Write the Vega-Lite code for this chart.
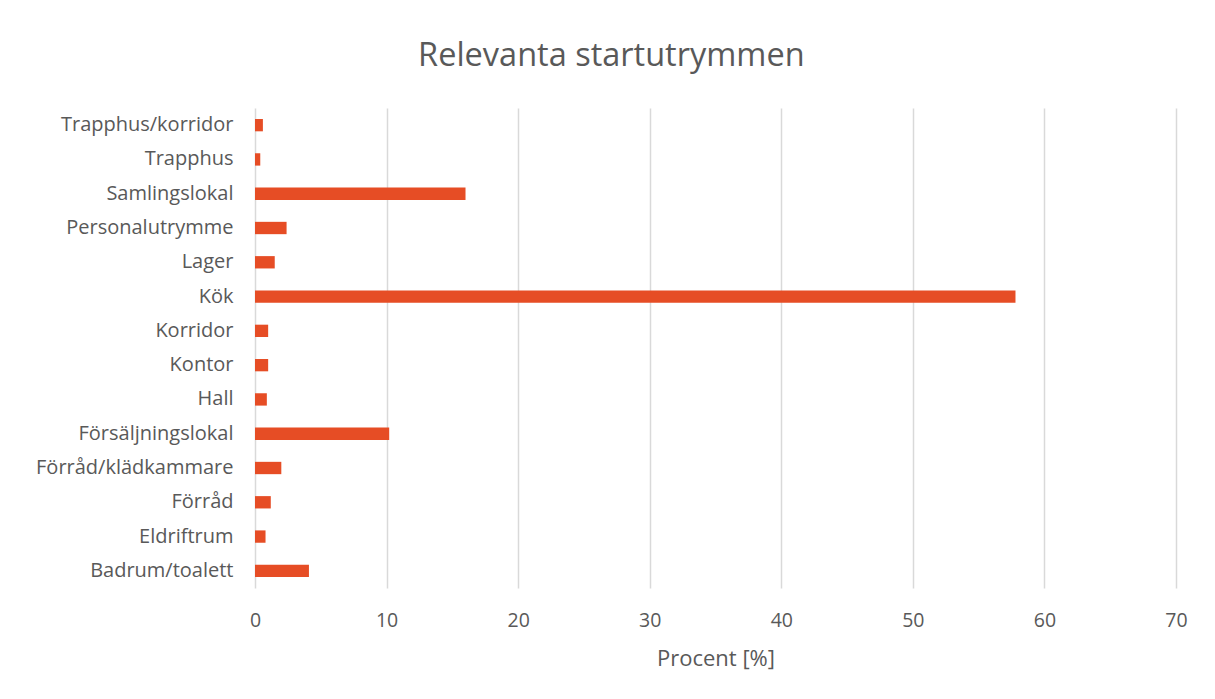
{
  "$schema": "https://vega.github.io/schema/vega-lite/v6.json",
  "width": 921,
  "height": 480,
  "autosize": {"type": "none"},
  "padding": {"left": 255, "top": 108, "right": 39, "bottom": 111},
  "background": "white",
  "title": {
    "text": "Relevanta startutrymmen",
    "anchor": "middle",
    "frame": "bounds",
    "fontSize": 32.5,
    "font": "Open Sans",
    "fontWeight": "normal",
    "color": "#595959",
    "offset": 36
  },
  "data": {
    "values": [
      {"rum": "Trapphus/korridor", "procent": 0.6},
      {"rum": "Trapphus", "procent": 0.4},
      {"rum": "Samlingslokal", "procent": 16.0},
      {"rum": "Personalutrymme", "procent": 2.4},
      {"rum": "Lager", "procent": 1.5},
      {"rum": "Kök", "procent": 57.8},
      {"rum": "Korridor", "procent": 1.0},
      {"rum": "Kontor", "procent": 1.0},
      {"rum": "Hall", "procent": 0.9},
      {"rum": "Försäljningslokal", "procent": 10.2},
      {"rum": "Förråd/klädkammare", "procent": 2.0},
      {"rum": "Förråd", "procent": 1.2},
      {"rum": "Eldriftrum", "procent": 0.8},
      {"rum": "Badrum/toalett", "procent": 4.1}
    ]
  },
  "mark": {"type": "bar", "color": "#E64D25"},
  "encoding": {
    "y": {
      "field": "rum",
      "type": "nominal",
      "sort": null,
      "scale": {"paddingInner": 0.64, "paddingOuter": 0.32},
      "axis": {
        "title": null,
        "ticks": false,
        "domain": false,
        "labelPadding": 22,
        "labelFontSize": 20,
        "labelFont": "Open Sans",
        "labelColor": "#595959",
        "labelLimit": 300
      }
    },
    "x": {
      "field": "procent",
      "type": "quantitative",
      "scale": {"domain": [0, 70], "nice": false},
      "axis": {
        "title": "Procent [%]",
        "values": [0, 10, 20, 30, 40, 50, 60, 70],
        "ticks": false,
        "domain": false,
        "grid": true,
        "gridColor": "#d9d9d9",
        "gridWidth": 1.5,
        "labelFlush": false,
        "labelPadding": 23,
        "labelFontSize": 19.5,
        "labelFont": "Open Sans",
        "labelColor": "#595959",
        "titleFont": "Open Sans",
        "titleFontSize": 22,
        "titleFontWeight": "normal",
        "titleColor": "#595959",
        "titlePadding": 19
      }
    }
  },
  "config": {"view": {"stroke": null}}
}
